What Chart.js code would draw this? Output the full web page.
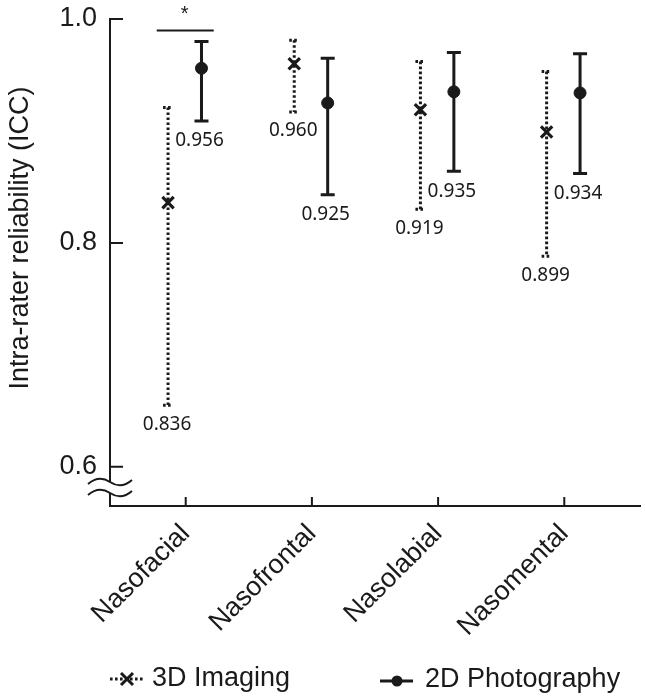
<!DOCTYPE html>
<html>
<head>
<meta charset="utf-8">
<script src="https://cdn.jsdelivr.net/npm/chart.js@4.4.1/dist/chart.umd.min.js"></script>
<style>
  html, body { margin: 0; padding: 0; background: #fff; }
</style>
</head>
<body>
<canvas id="icc" width="645" height="696"></canvas>
<script>
const categories = ['Nasofacial', 'Nasofrontal', 'Nasolabial', 'Nasomental'];
const icc3d = [0.836, 0.960, 0.919, 0.899];
const lower3d = [0.655, 0.917, 0.830, 0.788];
const upper3d = [0.921, 0.981, 0.962, 0.953];
const icc2d = [0.956, 0.925, 0.935, 0.934];
const lower2d = [0.909, 0.843, 0.864, 0.862];
const upper2d = [0.980, 0.965, 0.970, 0.969];
const yTicks = [0.6, 0.8, 1.0];
const seriesNames = ['3D Imaging', '2D Photography'];
const significant = [true, false, false, false];

const INK = '#1a1a1a';
const OFF3D = -0.14, OFF2D = 0.125;
const SANS = '"Liberation Sans", Arial, sans-serif';

function pts(vals, off) {
  return vals.map((v, i) => ({ x: i + 1 + off, y: v }));
}

// error bars, value labels, significance mark
const errorBars = {
  id: 'errorBars',
  beforeDatasetsDraw(chart) {
    const { ctx, scales: { x, y } } = chart;
    ctx.save();
    ctx.strokeStyle = INK;
    ctx.lineWidth = 3;
    categories.forEach((c, i) => {
      // 3D: dotted
      let px = x.getPixelForValue(i + 1 + OFF3D);
      let t = y.getPixelForValue(upper3d[i]), b = y.getPixelForValue(lower3d[i]);
      ctx.setLineDash([2.6, 2.4]);
      ctx.beginPath();
      ctx.moveTo(px, t); ctx.lineTo(px, b);
      ctx.moveTo(px - 5, t); ctx.lineTo(px + 5, t);
      ctx.moveTo(px - 5, b); ctx.lineTo(px + 5, b);
      ctx.stroke();
      // 2D: solid
      px = x.getPixelForValue(i + 1 + OFF2D);
      t = y.getPixelForValue(upper2d[i]); b = y.getPixelForValue(lower2d[i]);
      ctx.setLineDash([]);
      ctx.beginPath();
      ctx.moveTo(px, t); ctx.lineTo(px, b);
      ctx.moveTo(px - 7, t); ctx.lineTo(px + 7, t);
      ctx.moveTo(px - 7, b); ctx.lineTo(px + 7, b);
      ctx.stroke();
    });
    ctx.restore();
  },
  afterDatasetsDraw(chart) {
    const { ctx, scales: { x, y } } = chart;
    ctx.save();
    ctx.fillStyle = INK;
    ctx.font = '19px "Noto Sans", sans-serif';
    ctx.textAlign = 'center';
    ctx.textBaseline = 'middle';
    categories.forEach((c, i) => {
      ctx.fillText(icc3d[i].toFixed(3), x.getPixelForValue(i + 1 + OFF3D) - 1, y.getPixelForValue(lower3d[i]) + 19);
      ctx.fillText(icc2d[i].toFixed(3), x.getPixelForValue(i + 1 + OFF2D) - 2, y.getPixelForValue(lower2d[i]) + 20);
      if (significant[i]) {
        const cx = x.getPixelForValue(i + 1);
        const ly = y.getPixelForValue(Math.max(upper2d[i], upper3d[i])) - 11;
        ctx.strokeStyle = INK;
        ctx.lineWidth = 2;
        ctx.beginPath();
        ctx.moveTo(cx - 29, ly); ctx.lineTo(cx + 28, ly);
        ctx.stroke();
        ctx.font = '20px ' + SANS;
        ctx.textBaseline = 'alphabetic';
        ctx.fillText('*', cx - 1, ly - 10);
        ctx.font = '19px "Noto Sans", sans-serif';
        ctx.textBaseline = 'middle';
      }
    });
    ctx.restore();
  },
  afterDraw(chart) {
    const { ctx, chartArea: a, scales: { x, y } } = chart;
    ctx.save();
    ctx.strokeStyle = INK;
    ctx.lineWidth = 2;
    // inward ticks
    ctx.beginPath();
    y.ticks.forEach(tk => {
      const py = y.getPixelForValue(tk.value);
      ctx.moveTo(a.left, py); ctx.lineTo(a.left + 13, py);
    });
    x.ticks.forEach(tk => {
      const px = x.getPixelForValue(tk.value);
      ctx.moveTo(px, a.bottom); ctx.lineTo(px, a.bottom - 9);
    });
    ctx.stroke();
    // axis break
    const w1 = a.bottom - 24, w2 = a.bottom - 13, L = a.left;
    const wave = (yy) => {
      ctx.moveTo(L - 22, yy + 2);
      ctx.bezierCurveTo(L - 14, yy - 5, L - 6, yy - 4, L, yy);
      ctx.bezierCurveTo(L + 6, yy + 4, L + 14, yy + 5, L + 22, yy - 2);
    };
    ctx.fillStyle = '#fff';
    ctx.fillRect(L - 4, w1, 8, w2 - w1);
    ctx.beginPath();
    wave(w1); wave(w2);
    ctx.stroke();
    // y title
    ctx.fillStyle = INK;
    ctx.save();
    ctx.translate(21, 238);
    ctx.rotate(-Math.PI / 2);
    ctx.font = '27px ' + SANS;
    ctx.textAlign = 'center';
    ctx.textBaseline = 'middle';
    ctx.fillText('Intra-rater reliability (ICC)', 0, 0);
    ctx.restore();
    // legend
    const ly = 679;
    ctx.font = '27px ' + SANS;
    ctx.textBaseline = 'middle';
    ctx.textAlign = 'left';
    ctx.lineWidth = 3;
    ctx.setLineDash([2.6, 2.4]);
    ctx.beginPath(); ctx.moveTo(110, ly); ctx.lineTo(143, ly); ctx.stroke();
    ctx.setLineDash([]);
    ctx.beginPath();
    ctx.moveTo(121, ly - 6); ctx.lineTo(133, ly + 6);
    ctx.moveTo(133, ly - 6); ctx.lineTo(121, ly + 6);
    ctx.stroke();
    ctx.fillText(seriesNames[0], 152, ly);
    ctx.beginPath(); ctx.moveTo(380, ly + 2); ctx.lineTo(413, ly + 2); ctx.stroke();
    ctx.beginPath(); ctx.arc(397, ly + 2, 5.5, 0, Math.PI * 2); ctx.fill();
    ctx.fillText(seriesNames[1], 425, ly + 1);
    ctx.restore();
  }
};

new Chart(document.getElementById('icc'), {
  type: 'scatter',
  data: {
    datasets: [{
      label: seriesNames[0],
      data: pts(icc3d, OFF3D),
      pointStyle: 'crossRot',
      pointRadius: 8,
      borderWidth: 3.2,
      borderColor: INK,
      backgroundColor: INK
    }, {
      label: seriesNames[1],
      data: pts(icc2d, OFF2D),
      pointStyle: 'circle',
      pointRadius: 6,
      borderWidth: 1,
      borderColor: INK,
      backgroundColor: INK
    }]
  },
  options: {
    responsive: false,
    animation: false,
    layout: { autoPadding: false, padding: { top: 19, right: 5, left: 0, bottom: 0 } },
    plugins: { legend: { display: false }, tooltip: { enabled: false } },
    scales: {
      x: {
        type: 'linear',
        min: 0.4,
        max: 4.6,
        afterBuildTicks: s => { s.ticks = categories.map((c, i) => ({ value: i + 1 })); },
        afterFit: s => { s.height = 190; s.paddingLeft = 0; s.paddingRight = 0; },
        grid: { drawOnChartArea: false, drawTicks: false },
        border: { display: true, color: INK, width: 2 },
        ticks: {
          autoSkip: false,
          minRotation: 45,
          maxRotation: 45,
          padding: 12,
          color: INK,
          font: { family: SANS, size: 27 },
          callback: v => categories[v - 1]
        }
      },
      y: {
        min: 0.565,
        max: 1.0,
        afterBuildTicks: s => { s.ticks = yTicks.map(v => ({ value: v })); },
        afterFit: s => { s.width = 110; s.paddingTop = 0; s.paddingBottom = 0; },
        grid: { drawOnChartArea: false, drawTicks: false },
        border: { display: true, color: INK, width: 2 },
        ticks: {
          padding: 13,
          color: INK,
          font: { family: SANS, size: 27 },
          callback: v => v.toFixed(1)
        }
      }
    }
  },
  plugins: [errorBars]
});
</script>
</body>
</html>
